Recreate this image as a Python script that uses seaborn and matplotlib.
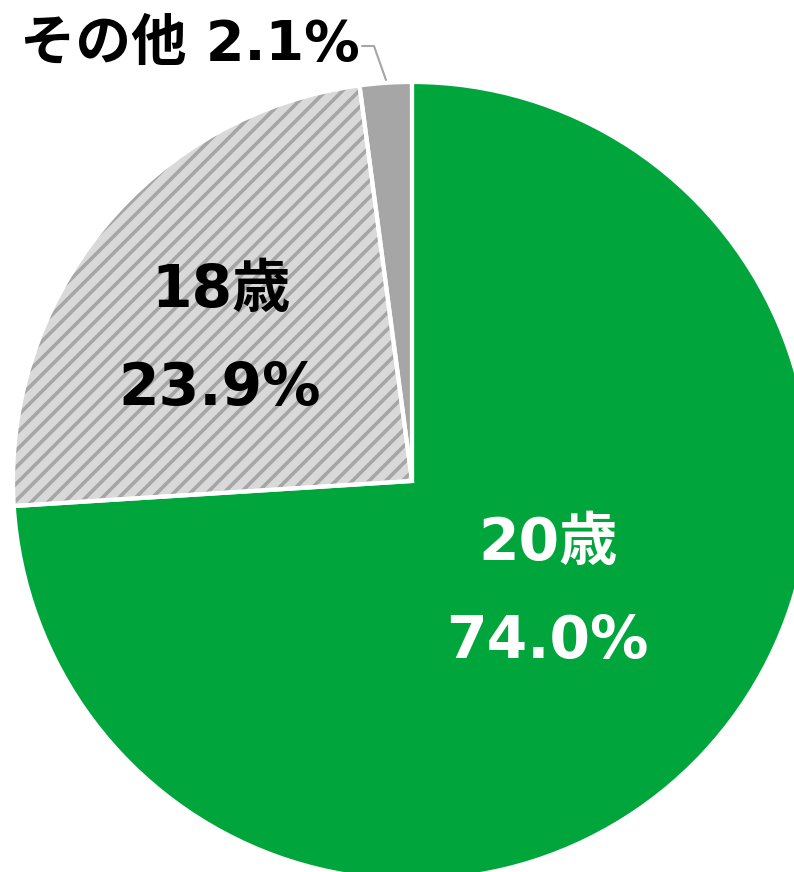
import numpy as np
import pandas as pd
import matplotlib
matplotlib.use('Agg')
import matplotlib.pyplot as plt
import seaborn as sns

# データ
labels = ['20歳', '18歳', 'その他']
shares = [74.0, 23.9, 2.1]
colors = ['#00A63C', '#D9D9D9', '#A6A6A6']

sns.set_style('white')
plt.rcParams['font.family'] = ['DejaVu Sans', 'Noto Sans CJK JP']
plt.rcParams['hatch.linewidth'] = 2.6

W, H = 794, 872
fig = plt.figure(figsize=(W / 100, H / 100), dpi=100)
ax = fig.add_axes([0, 0, 1, 1])

center = (412, H - 481)
radius = 399

# 塗り
wedges, _ = ax.pie(shares, colors=colors, startangle=90, counterclock=False,
                   center=center, radius=radius, frame=True,
                   wedgeprops={'linewidth': 0})
wedges[1].set_hatch('//')
wedges[1].set_edgecolor('#A6A6A6')
# 白い境界線
ax.pie(shares, colors=['none'] * 3, startangle=90, counterclock=False,
       center=center, radius=radius, frame=True,
       wedgeprops={'linewidth': 3, 'edgecolor': 'white', 'fill': False})
ax.set_xlim(0, W)
ax.set_ylim(0, H)
ax.set_aspect('equal')
ax.axis('off')

fs = 42
kw = dict(fontweight='bold', ha='center', va='baseline')
ax.text(548, H - 560, labels[0], color='white', fontsize=fs, **kw)
ax.text(547, H - 658, f'{shares[0]:.1f}%', color='white', fontsize=fs, **kw)
ax.text(221, H - 307, labels[1], color='black', fontsize=fs, **kw)
ax.text(220, H - 405, f'{shares[1]:.1f}%', color='black', fontsize=fs, **kw)
ax.text(190, H - 60, f'{labels[2]} {shares[2]:.1f}%', color='black', fontsize=40, **kw)
ax.plot([362, 374, 386], [H - 46, H - 46, H - 80], color='#A6A6A6', lw=1.5)

fig.savefig('out.png', dpi=100)
